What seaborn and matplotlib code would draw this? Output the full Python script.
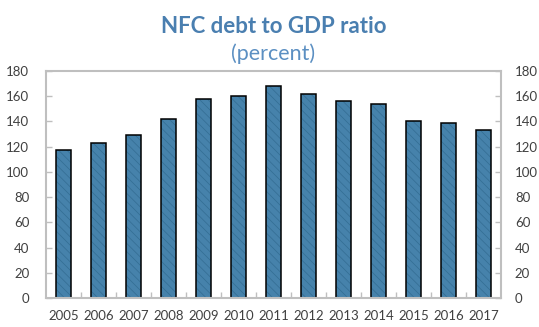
import matplotlib
matplotlib.use("Agg")
import matplotlib.pyplot as plt
import seaborn as sns
import pandas as pd
from matplotlib.ticker import FixedLocator, MultipleLocator

# ========= data =========
years = ["2005", "2006", "2007", "2008", "2009", "2010", "2011",
         "2012", "2013", "2014", "2015", "2016", "2017"]
ratio = [117, 123, 129, 142, 158, 160, 168, 161.5, 156, 154, 140, 138.5, 133.5]

df = pd.DataFrame({"year": years, "ratio": ratio})

sns.set_style("white")
plt.rcParams["font.family"] = ["Lato", "DejaVu Sans"]
plt.rcParams["hatch.linewidth"] = 0.5

fig = plt.figure(figsize=(5.39, 3.27), dpi=100)
ax = fig.add_axes([46 / 539, 1 - 298 / 327, 455 / 539, 227 / 327])

bar_col = "#4682ab"
hatch_col = "#336d93"

# fill with hatch
sns.barplot(data=df, x="year", y="ratio", ax=ax, color=bar_col, saturation=1,
            width=0.43, edgecolor=hatch_col, linewidth=0, hatch="\\\\\\\\")
# black outline on top
sns.barplot(data=df, x="year", y="ratio", ax=ax, fill=False, saturation=1,
            width=0.43, edgecolor="black", linewidth=1.1)

ax.set_xlim(-0.5, len(years) - 0.5)
ax.set_ylim(0, 180)
ax.yaxis.set_major_locator(MultipleLocator(20))
ax.set_xlabel("")
ax.set_ylabel("")

for s in ax.spines.values():
    s.set_color("#bfbfbf")
    s.set_linewidth(1.5)

tick_col = "#404040"
ax.tick_params(axis="y", direction="in", length=4, width=1, color="#bfbfbf",
               labelsize=9.5, labelcolor=tick_col, pad=12, left=True)
ax.tick_params(axis="x", which="major", length=0, labelsize=9.5,
               labelcolor=tick_col, pad=9)
ax.xaxis.set_minor_locator(FixedLocator([i + 0.5 for i in range(len(years) - 1)]))
ax.tick_params(axis="x", which="minor", direction="in", length=4, width=1,
               color="#bfbfbf", bottom=True)

# right-hand labels
ax2 = ax.twinx()
ax2.set_ylim(ax.get_ylim())
ax2.yaxis.set_major_locator(MultipleLocator(20))
ax2.tick_params(axis="y", direction="in", length=4, width=1, color="#bfbfbf",
                labelsize=9.5, labelcolor=tick_col, pad=10, right=True)
for s in ax2.spines.values():
    s.set_visible(False)

cx = (46 + 501) / 2 / 539
fig.text(cx, 1 - 33 / 327, "NFC debt to GDP ratio",
         ha="center", va="baseline", fontsize=16, fontweight="bold",
         color="#4a7fb0")
fig.text(cx, 1 - 60 / 327, "(percent)",
         ha="center", va="baseline", fontsize=15.5, color="#5b8fc2")

fig.savefig("out.png", dpi=100)
